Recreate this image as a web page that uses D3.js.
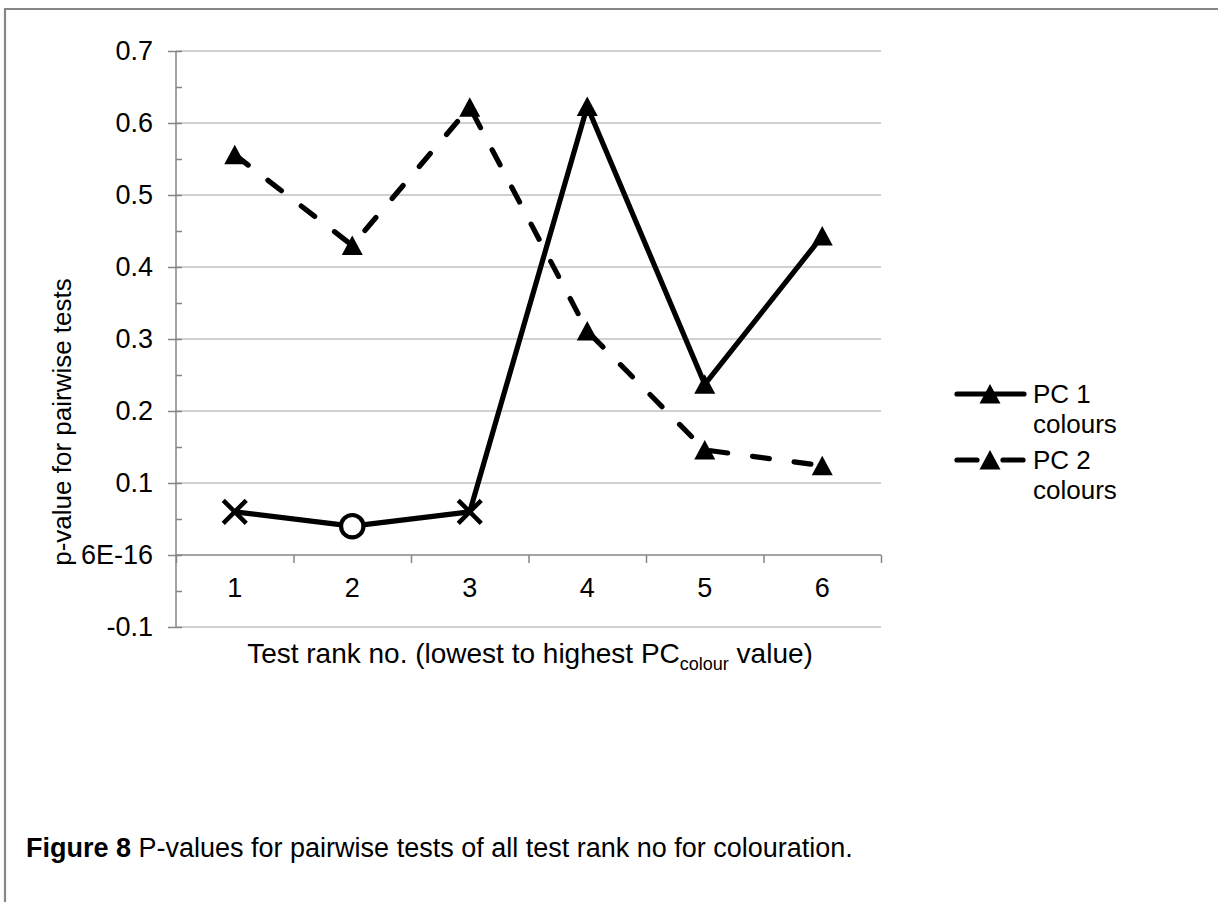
<!DOCTYPE html>
<html>
<head>
<meta charset="utf-8">
<script src="https://cdn.jsdelivr.net/npm/d3@7"></script>
<style>
  html, body { margin: 0; padding: 0; background: #fff; }
  svg { display: block; font-family: "Liberation Sans", Arial, Helvetica, sans-serif; }
</style>
</head>
<body>
<svg id="chart" width="1218" height="902"></svg>
<script>
// ---- data ----
const categories = [1, 2, 3, 4, 5, 6];
const pc1Values = [0.06, 0.04, 0.06, 0.623, 0.237, 0.443];
const pc1Markers = ["cross", "circle", "cross", "triangle", "triangle", "triangle"];
const pc2Values = [0.556, 0.430, 0.622, 0.311, 0.146, 0.124];
const pc2Markers = ["triangle", "triangle", "triangle", "triangle", "triangle", "triangle"];
const seriesNames = ["PC 1", "PC 2"];
const yTickValues = [-0.1, 0, 0.1, 0.2, 0.3, 0.4, 0.5, 0.6, 0.7];
const yTickLabels = ["-0.1", "6E-16", "0.1", "0.2", "0.3", "0.4", "0.5", "0.6", "0.7"];
const yMinorValues = [-0.05, 0.05, 0.15, 0.25, 0.35, 0.45, 0.55, 0.65];
const yTitle = "p-value for pairwise tests";
const xTitleMain = "Test rank no. (lowest to highest PC";
const xTitleSub = "colour";
const xTitleEnd = " value)";
const captionBold = "Figure 8";
const captionText = " P-values for pairwise tests of all test rank no for colouration.";

// ---- layout ----
const svg = d3.select("#chart");
const plot = { left: 176, right: 881, top: 51, bottom: 627 };
const axisGrey = "#868686";
const gridGrey = "#c0c0c0";
const fontSize = 27;
const lineW = 5.2;

const x = d3.scaleBand().domain(categories).range([plot.left, plot.right]).padding(0);
const xb = d3.scaleLinear().domain([0, categories.length]).range([plot.left, plot.right]);
const y = d3.scaleLinear().domain([-0.1, 0.7]).range([plot.bottom, plot.top]);
const cx = c => x(c) + x.bandwidth() / 2;

// frame
svg.append("path")
  .attr("d", `M5,902 L5,9 L1218,9`)
  .attr("fill", "none").attr("stroke", axisGrey).attr("stroke-width", 2.2);

// gridlines
svg.append("g").selectAll("line").data(yTickValues.filter(v => v !== 0)).join("line")
  .attr("x1", plot.left).attr("x2", plot.right)
  .attr("y1", d => y(d)).attr("y2", d => y(d))
  .attr("stroke", gridGrey).attr("stroke-width", 1.5);

// y axis (outer major ticks with labels)
const yAxis = svg.append("g").attr("transform", `translate(${plot.left},0)`)
  .call(d3.axisLeft(y).tickValues(yTickValues)
    .tickFormat((d, i) => yTickLabels[i]).tickSize(8).tickPadding(15));
// inner ticks (major + minor)
const yAxisIn = svg.append("g").attr("transform", `translate(${plot.left},0)`)
  .call(d3.axisRight(y).tickValues(yTickValues.concat(yMinorValues))
    .tickFormat("").tickSize(6).tickSizeOuter(0));
[yAxis, yAxisIn].forEach(g => {
  g.selectAll("path.domain").attr("stroke", axisGrey).attr("stroke-width", 1.5);
  g.selectAll(".tick line").attr("stroke", axisGrey).attr("stroke-width", 1.5);
  g.selectAll("text").attr("fill", "#000").attr("font-size", fontSize)
    .attr("font-family", '"Liberation Sans", Arial, sans-serif');
});
yAxisIn.select("path.domain").remove();
yAxis.select("path.domain").attr("d", `M0,${plot.top}V${plot.bottom}`);

// x axis at y=0: boundary ticks
const xAxisG = svg.append("g").attr("transform", `translate(0,${y(0)})`)
  .call(d3.axisBottom(xb).tickValues(d3.range(0, categories.length + 1))
    .tickFormat("").tickSize(8).tickSizeOuter(0));
xAxisG.selectAll("path.domain").attr("stroke", axisGrey).attr("stroke-width", 1.5)
  .attr("d", `M${plot.left},0H${plot.right}`);
xAxisG.selectAll(".tick line").attr("stroke", axisGrey).attr("stroke-width", 1.5);
// category labels
const xLab = svg.append("g").attr("transform", `translate(0,${y(0)})`)
  .call(d3.axisBottom(x).tickSize(0).tickPadding(23));
xLab.select("path.domain").remove();
xLab.selectAll("text").attr("fill", "#000").attr("font-size", fontSize)
  .attr("font-family", '"Liberation Sans", Arial, sans-serif');

// ---- series ----
const line = d3.line().x(d => cx(d.c)).y(d => y(d.v));
const pc1 = categories.map((c, i) => ({ c, v: pc1Values[i], m: pc1Markers[i] }));
const pc2 = categories.map((c, i) => ({ c, v: pc2Values[i], m: pc2Markers[i] }));

svg.append("path").datum(pc2).attr("d", line)
  .attr("fill", "none").attr("stroke", "#000").attr("stroke-width", lineW)
  .attr("stroke-dasharray", "17,25").attr("stroke-linecap", "round")
  .attr("stroke-linejoin", "round");
svg.append("path").datum(pc1).attr("d", line)
  .attr("fill", "none").attr("stroke", "#000").attr("stroke-width", lineW)
  .attr("stroke-linejoin", "round");

function drawMarker(g, px, py, type) {
  if (type === "triangle") {
    g.append("path")
      .attr("d", `M${px},${py - 10}L${px + 10.5},${py + 9.5}L${px - 10.5},${py + 9.5}Z`)
      .attr("fill", "#000");
  } else if (type === "cross") {
    const s = 11.5;
    g.append("path")
      .attr("d", `M${px - s},${py - s}L${px + s},${py + s}M${px - s},${py + s}L${px + s},${py - s}`)
      .attr("stroke", "#000").attr("stroke-width", 4.5).attr("fill", "none");
  } else if (type === "circle") {
    g.append("circle").attr("cx", px).attr("cy", py).attr("r", 11.2)
      .attr("fill", "#fff").attr("stroke", "#000").attr("stroke-width", 4.2);
  }
}
const mk = svg.append("g");
pc2.forEach(d => drawMarker(mk, cx(d.c), y(d.v), d.m));
pc1.forEach(d => drawMarker(mk, cx(d.c), y(d.v), d.m));

// ---- legend ----
const legend = svg.append("g");
const legItems = [
  { name: seriesNames[0], dashed: false, y: 394 },
  { name: seriesNames[1], dashed: true, y: 460 }
];
legItems.forEach(it => {
  if (it.dashed) {
    legend.append("path").attr("d", `M957,${it.y}H977M1003,${it.y}H1023`)
      .attr("stroke", "#000").attr("stroke-width", lineW).attr("stroke-linecap", "round");
  } else {
    legend.append("path").attr("d", `M957,${it.y}H1024`)
      .attr("stroke", "#000").attr("stroke-width", lineW).attr("stroke-linecap", "round");
  }
  drawMarker(legend, 990, it.y, "triangle");
  const t = legend.append("text").attr("x", 1033).attr("y", it.y + 9)
    .attr("font-size", 26).attr("fill", "#000");
  t.append("tspan").attr("x", 1033).text(it.name);
  t.append("tspan").attr("x", 1033).attr("dy", 30).text("colours");
});

// ---- axis titles ----
svg.append("text")
  .attr("transform", `translate(71,422) rotate(-90)`)
  .attr("text-anchor", "middle").attr("font-size", 26).attr("fill", "#000")
  .text(yTitle);

const xt = svg.append("text").attr("x", 530).attr("y", 663)
  .attr("text-anchor", "middle").attr("font-size", 28).attr("fill", "#000");
xt.append("tspan").text(xTitleMain);
xt.append("tspan").attr("font-size", 18).attr("dy", 7).text(xTitleSub);
xt.append("tspan").attr("dy", -7).text(xTitleEnd);

// ---- caption ----
const cap = svg.append("text").attr("x", 26).attr("y", 857)
  .attr("font-size", 27).attr("fill", "#000");
cap.append("tspan").attr("font-weight", "bold").text(captionBold);
cap.append("tspan").text(captionText);
</script>
</body>
</html>
